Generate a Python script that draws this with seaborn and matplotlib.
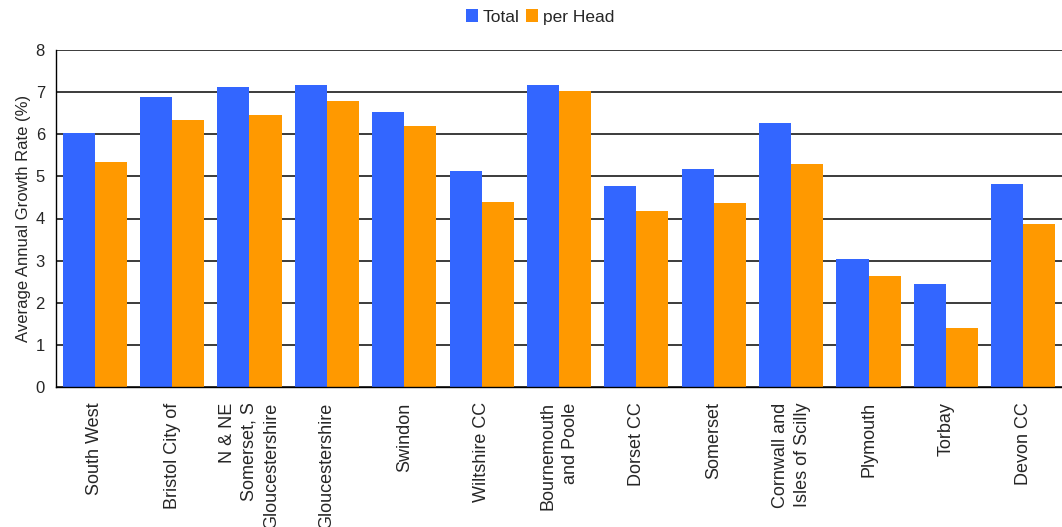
import numpy as np
import pandas as pd
import matplotlib
matplotlib.use("Agg")
import matplotlib.pyplot as plt
import seaborn as sns

# 数据
regions = ["South West", "Bristol City of", "N & NE\nSomerset, S\nGloucestershire",
           "Gloucestershire", "Swindon", "Wiltshire CC", "Bournemouth\nand Poole",
           "Dorset CC", "Somerset", "Cornwall and\nIsles of Scilly", "Plymouth",
           "Torbay", "Devon CC"]
total = [6.02, 6.88, 7.11, 7.18, 6.54, 5.12, 7.18, 4.76, 5.17, 6.26, 3.03, 2.45, 4.83]
per_head = [5.35, 6.35, 6.45, 6.80, 6.19, 4.40, 7.02, 4.17, 4.36, 5.30, 2.64, 1.39, 3.86]
series = ["Total", "per Head"]
colors = ["#3366FF", "#FF9900"]

df = pd.DataFrame({"region": regions * 2,
                   "value": total + per_head,
                   "series": [series[0]] * len(regions) + [series[1]] * len(regions)})

sns.set_style("white")
plt.rcParams['font.family'] = ['Liberation Sans', 'DejaVu Sans']

fig = plt.figure(figsize=(10.62, 5.27), dpi=100)
ax = fig.add_axes([56 / 1062, 1 - 387 / 527, 1 - 56 / 1062, 337 / 527])

sns.barplot(data=df, x="region", y="value", hue="series", palette=colors,
            width=0.83, gap=0, saturation=1, linewidth=0, ax=ax, legend=True)

ax.set_ylim(0, 8)
ax.set_xlim(-0.5, len(regions) - 0.5)
ax.set_yticks(range(0, 9))
ax.yaxis.grid(True, color="#1a1a1a", linewidth=1.2)
ax.set_axisbelow(True)

for s in ["top", "right"]:
    ax.spines[s].set_visible(False)
for s in ["left", "bottom"]:
    ax.spines[s].set_color("black")
    ax.spines[s].set_linewidth(1)

# x轴刻度在类别之间
ax.set_xticks(np.arange(-0.5, len(regions), 1), minor=True)
ax.tick_params(axis="x", which="major", length=0, pad=11)
ax.tick_params(axis="x", which="minor", length=5, color="black", direction="out")
ax.tick_params(axis="y", length=5, color="black", direction="out", labelsize=12, pad=3)
ax.set_xticks(range(len(regions)))
ax.set_xticklabels(regions, rotation=90, fontsize=13, va="top", ha="center",
                   multialignment="right", linespacing=1.4)

ax.set_xlabel("")
ax.set_ylabel("Average Annual Growth Rate (%)", fontsize=12, labelpad=3)

handles, labels = ax.get_legend_handles_labels()
ax.legend_.remove()
fig.legend(handles, labels, loc="center", bbox_to_anchor=(540 / 1062, 1 - 17 / 527),
           ncol=2, frameon=False, fontsize=12.5, handlelength=0.7, handleheight=0.7,
           handletextpad=0.25, columnspacing=0.4)

fig.savefig("out.png", dpi=100)
